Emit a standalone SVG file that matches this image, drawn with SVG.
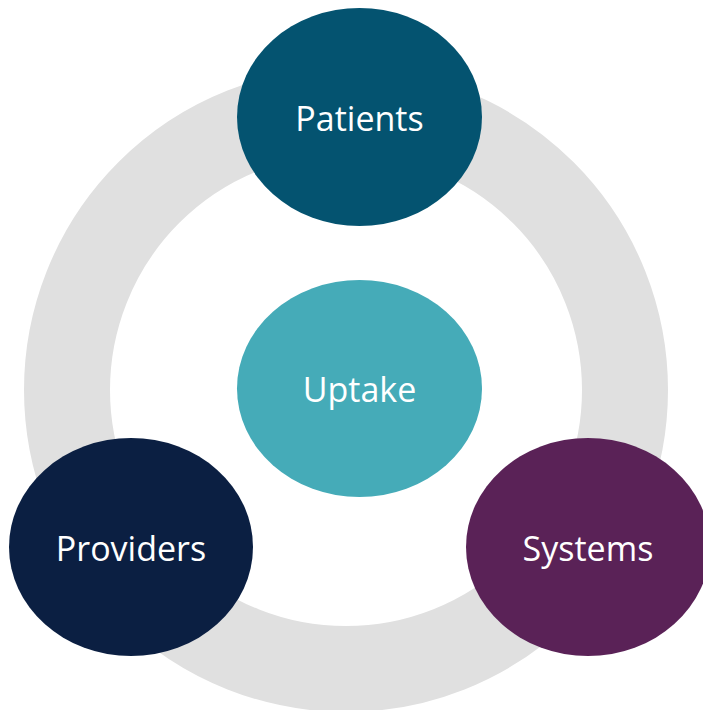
<svg xmlns="http://www.w3.org/2000/svg" width="703" height="710" viewBox="0 0 703 710">
<style>
.lbl{font-family:"Open Sans","Noto Sans","Liberation Sans",sans-serif;font-size:34px;fill:#ffffff;text-anchor:middle}
</style>
<rect width="703" height="710" fill="#ffffff"/>
<g id="connectors">
<circle cx="346" cy="390" r="279" fill="none" stroke="#e0e0e0" stroke-width="86"/>
</g>
<g id="patients">
<ellipse cx="359.5" cy="117" rx="122.5" ry="109" fill="#045370"/>
<text class="lbl" x="359.5" y="130.5">Patients</text>
</g>
<g id="uptake">
<ellipse cx="359.5" cy="388.5" rx="122.5" ry="108.5" fill="#45abb8"/>
<text class="lbl" x="359.5" y="402">Uptake</text>
</g>
<g id="providers">
<ellipse cx="131" cy="547" rx="122" ry="109" fill="#0b1f42"/>
<text class="lbl" x="131" y="560.5">Providers</text>
</g>
<g id="systems">
<ellipse cx="588" cy="547" rx="122" ry="109" fill="#5a2257"/>
<text class="lbl" x="588" y="560.5">Systems</text>
</g>
</svg>
